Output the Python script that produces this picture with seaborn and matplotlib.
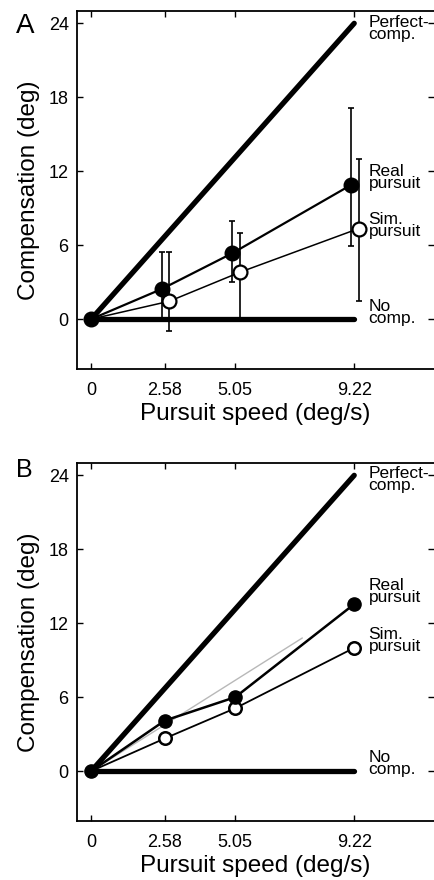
import numpy as np
import pandas as pd
import matplotlib
matplotlib.use("Agg")
import matplotlib.pyplot as plt
import seaborn as sns

sns.set_style("ticks")
plt.rcParams['font.family'] = ['Liberation Sans', 'DejaVu Sans']
plt.rcParams['text.color'] = 'black'
plt.rcParams['axes.labelcolor'] = 'black'
plt.rcParams['xtick.color'] = 'black'
plt.rcParams['ytick.color'] = 'black'

# ---------------- data ----------------
speeds = [0, 2.58, 5.05, 9.22]
tick_labels = ["0", "2.58", "5.05", "9.22"]
yticks = [0, 6, 12, 18, 24]

perfect_x = [0, 9.22]
perfect_y = [0, 24]
nocomp_x = [0, 9.22]
nocomp_y = [0, 0]

# Panel A (means with error bars)
real_A = [0, 2.45, 5.35, 10.9]
real_A_hi = [np.nan, 5.45, 7.95, 17.1]
real_A_lo = [np.nan, 0.0, 3.0, 5.9]
sim_A = [0, 1.45, 3.8, 7.35]
sim_A_hi = [np.nan, 5.45, 7.0, 13.0]
sim_A_lo = [np.nan, -0.95, 0.1, 1.5]

# Panel B
real_B = [0, 4.1, 6.0, 13.55]
sim_B = [0, 2.65, 5.1, 10.0]
grey_x = [0, 7.4]
grey_y = [0, 10.8]

labels_text = ["Perfect-\ncomp.", "Real\npursuit", "Sim.\npursuit", "No\ncomp."]
labels_y_A = [23.6, 11.5, 7.6, 0.55]
labels_y_B = [23.7, 14.6, 10.6, 0.6]

# offsets used to separate the two series in panel A
off_real = -0.1
off_sim = 0.16

W, H = 434, 880
fig = plt.figure(figsize=(W / 100, H / 100), dpi=100)

def make_ax(top_px, bot_px):
    left = 77 / W
    right = 433.5 / W
    return fig.add_axes([left, 1 - bot_px / H, right - left, (bot_px - top_px) / H])

axA = make_ax(11, 369)
axB = make_ax(463, 821)

def style_ax(ax):
    ax.set_xlim(-0.5, 12)
    ax.set_ylim(-4.05, 25)
    ax.set_xticks(speeds)
    ax.set_xticklabels(tick_labels)
    ax.set_yticks(yticks)
    ax.set_yticklabels([str(v) for v in yticks])
    ax.tick_params(direction='in', length=4, width=1.0, top=True, right=True,
                   labelsize=13, pad=6, colors='black')
    ax.tick_params(axis='x', pad=9)
    for s in ['left', 'bottom', 'top']:
        ax.spines[s].set_linewidth(1.3)
        ax.spines[s].set_color('black')
    ax.spines['right'].set_visible(False)
    ax.set_xlabel("Pursuit speed (deg/s)", fontsize=17.5, labelpad=3, color='black')
    ax.set_ylabel("Compensation (deg)", fontsize=17.5, labelpad=6, color='black')

def ref_lines(ax):
    sns.lineplot(x=perfect_x, y=perfect_y, ax=ax, color='black', lw=3.8,
                 solid_capstyle='round', zorder=3)
    sns.lineplot(x=nocomp_x, y=nocomp_y, ax=ax, color='black', lw=3.8,
                 solid_capstyle='round', zorder=3)

def side_labels(ax, ys):
    for t, y in zip(labels_text, ys):
        ax.text(9.72, y, t, fontsize=12.5, va='center', ha='left',
                linespacing=0.75, color='black')

# ---------- Panel A ----------
ref_lines(axA)
sp = np.array(speeds, dtype=float)
xr = np.where(sp > 0, sp + off_real, 0)
xs = np.where(sp > 0, sp + off_sim, 0)
dfA = pd.DataFrame({'x_real': xr, 'x_sim': xs, 'real': real_A, 'sim': sim_A})

ra = np.array(real_A); sa = np.array(sim_A)
axA.errorbar(xr[1:], ra[1:], yerr=[ra[1:] - np.array(real_A_lo[1:]), np.array(real_A_hi[1:]) - ra[1:]],
             fmt='none', ecolor='black', elinewidth=1.2, capsize=2, capthick=1.2, zorder=2)
axA.errorbar(xs[1:], sa[1:], yerr=[sa[1:] - np.array(sim_A_lo[1:]), np.array(sim_A_hi[1:]) - sa[1:]],
             fmt='none', ecolor='black', elinewidth=1.2, capsize=2, capthick=1.2, zorder=2)

sns.lineplot(data=dfA, x='x_sim', y='sim', ax=axA, color='black', lw=1.1, zorder=4, sort=False)
sns.lineplot(data=dfA, x='x_real', y='real', ax=axA, color='black', lw=1.6, zorder=4, sort=False)
axA.plot(dfA['x_sim'][1:], dfA['sim'][1:], 'o', ms=10, mfc='white', mec='black', mew=1.6, zorder=5)
axA.plot(dfA['x_real'], dfA['real'], 'o', ms=10.5, mfc='black', mec='black', zorder=6)
side_labels(axA, labels_y_A)
style_ax(axA)

# ---------- Panel B ----------
ref_lines(axB)
dfB = pd.DataFrame({'speed': speeds, 'real': real_B, 'sim': sim_B})
sns.lineplot(x=grey_x, y=grey_y, ax=axB, color='#b8b8b8', lw=1.0, zorder=2)
sns.lineplot(data=dfB, x='speed', y='sim', ax=axB, color='black', lw=1.3, zorder=4)
sns.lineplot(data=dfB, x='speed', y='real', ax=axB, color='black', lw=1.8, zorder=4)
axB.plot(dfB['speed'][1:], dfB['sim'][1:], 'o', ms=9, mfc='white', mec='black', mew=1.8, zorder=5)
axB.plot(dfB['speed'], dfB['real'], 'o', ms=9.5, mfc='black', mec='black', zorder=6)
side_labels(axB, labels_y_B)
style_ax(axB)

fig.text(16 / W, 1 - 33 / H, "A", fontsize=20, ha='left', va='baseline')
fig.text(16 / W, 1 - 477 / H, "B", fontsize=18, ha='left', va='baseline')

fig.savefig("out.png", dpi=100)
